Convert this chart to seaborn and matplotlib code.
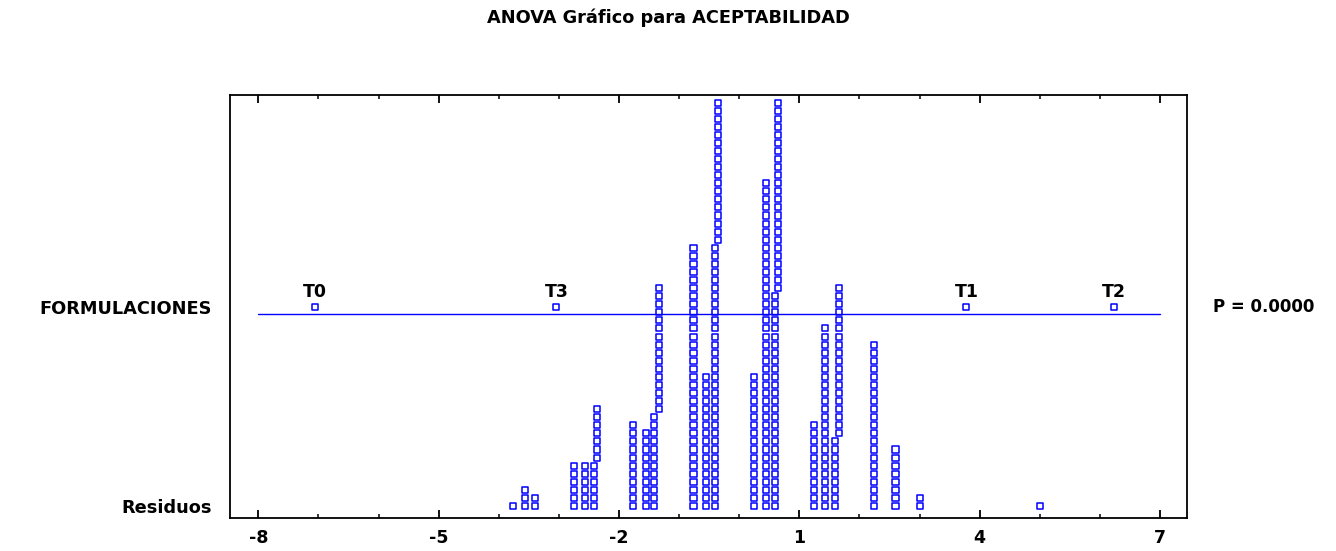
import matplotlib
matplotlib.use("Agg")
import matplotlib.pyplot as plt
import matplotlib.transforms as mtransforms
import numpy as np
import pandas as pd
import seaborn as sns

# Residual values (distinct levels) and how many observations sit at each
resid_values = [-3.77, -3.57, -3.40, -2.75, -2.57, -2.41, -2.37, -1.76, -1.55,
                -1.42, -1.34, -0.76, -0.56, -0.40, -0.35, 0.25, 0.44, 0.60,
                0.64, 1.25, 1.43, 1.59, 1.66, 2.24, 2.60, 3.00, 5.01]
resid_counts = [1, 3, 2, 6, 6, 6, 7, 11, 10,
                12, 16, 33, 17, 33, 18, 17, 41, 27,
                24, 11, 23, 9, 19, 21, 8, 2, 1]

# Scaled treatment deviations
groups = ["T0", "T1", "T2", "T3"]
group_effects = [-7.06, 3.78, 6.23, -3.04]

x_ticks = [-8, -5, -2, 1, 4, 7]
p_value_text = "P = 0.0000"

# Stack residual dots: levels closer than a dot width share one column
dot_w = 0.12
xs, ys = [], []
prev_x, prev_top = None, 0
for v, n in sorted(zip(resid_values, resid_counts)):
    start = prev_top if (prev_x is not None and v - prev_x < dot_w) else 0
    for k in range(n):
        xs.append(v)
        ys.append(start + k)
    prev_x, prev_top = v, start + n
resid_df = pd.DataFrame({"residual": xs, "row": ys})

ROW_FACTOR = 24.66   # row of the treatment means
LINE_ROW = 23.8

sns.set_style("white")
plt.rcParams["font.family"] = ["DejaVu Sans"]
plt.rcParams["text.color"] = "black"
plt.rcParams["xtick.color"] = "black"
plt.rcParams["ytick.color"] = "black"

fig = plt.figure(figsize=(13.36, 5.51), dpi=100)
ax = fig.add_axes([0.1722, 0.0599, 0.7163, 0.7682])

blue = "#0000FF"
sns.scatterplot(data=resid_df, x="residual", y="row", marker="s", s=19,
                facecolor="none", edgecolor=blue, linewidth=1.1, ax=ax,
                legend=False)

means_df = pd.DataFrame({"group": groups, "effect": group_effects,
                         "row": [ROW_FACTOR] * len(groups)})
sns.scatterplot(data=means_df, x="effect", y="row", marker="s", s=19,
                facecolor="none", edgecolor=blue, linewidth=1.1, ax=ax,
                legend=False)
for g, e in zip(groups, group_effects):
    ax.text(e, ROW_FACTOR + 0.75, g, ha="center", va="bottom",
            fontsize=12.5, fontweight="bold", color="black")

ax.plot([x_ticks[0], x_ticks[-1]], [LINE_ROW, LINE_ROW], color=blue, lw=1.0)

ax.set_xlim(-8.47, 7.45)
ax.set_ylim(-1.49, 50.97)
ax.set_xticks(x_ticks)
ax.set_xticklabels([str(t) for t in x_ticks], fontsize=12.5, fontweight="bold",
                   color="black")
ax.set_xticks(np.arange(-8, 8, 1), minor=True)
ax.tick_params(axis="x", which="major", direction="in", length=6, width=1.3,
               top=True, bottom=True, pad=8, colors="black")
ax.tick_params(axis="x", which="minor", direction="in", length=3, width=1.1,
               top=True, bottom=True, colors="black")
ax.set_yticks([0, ROW_FACTOR])
ax.set_yticklabels(["Residuos", "FORMULACIONES"], fontsize=12.8,
                   fontweight="bold", color="black")
ax.tick_params(axis="y", length=0, pad=13)
ax.set_xlabel("")
ax.set_ylabel("")
for sp in ax.spines.values():
    sp.set_visible(True)
    sp.set_color("black")
    sp.set_linewidth(1.3)

trans = mtransforms.blended_transform_factory(ax.transAxes, ax.transData)
ax.annotate(p_value_text, xy=(1.0, ROW_FACTOR), xycoords=trans,
            xytext=(19, 0), textcoords="offset points", ha="left",
            va="center", fontsize=12, fontweight="bold", color="black")

fig.suptitle("ANOVA Gráfico para ACEPTABILIDAD", x=0.5, y=0.985,
             fontsize=12.8, fontweight="bold", color="black")

fig.savefig("out.png", dpi=100)
